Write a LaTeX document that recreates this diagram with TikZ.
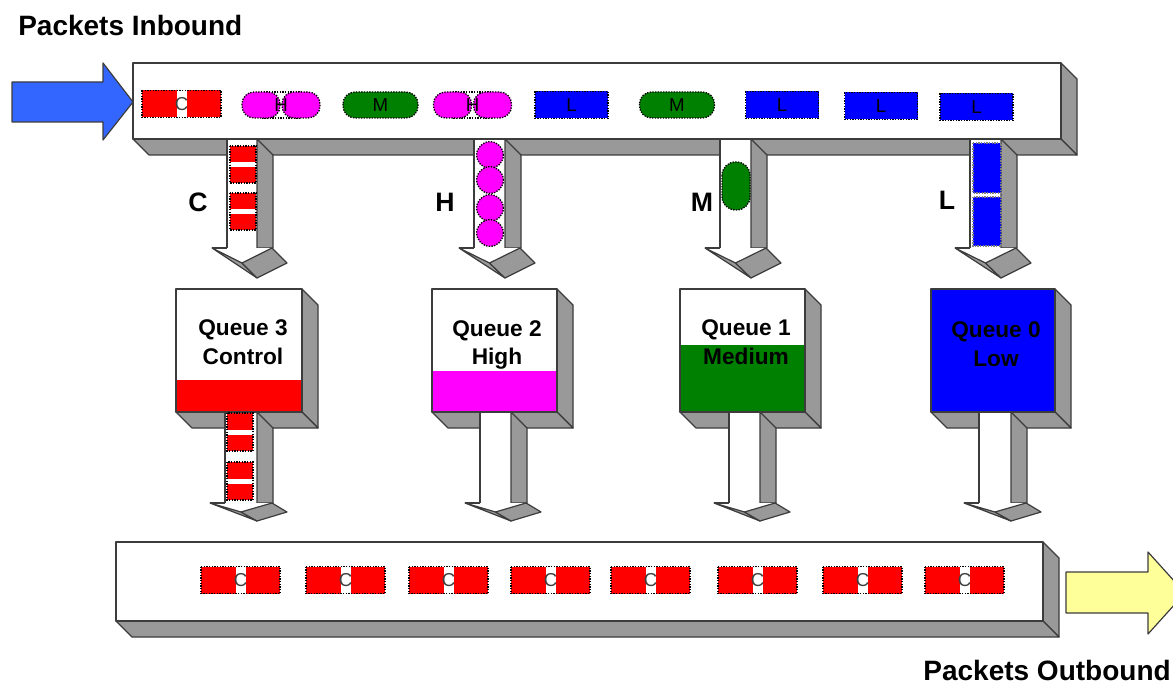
\documentclass[tikz,border=0pt]{standalone}
\usepackage{fontspec}
\setmainfont{Liberation Sans}

\definecolor{ctlred}{RGB}{255,0,0}
\definecolor{himag}{RGB}{255,0,255}
\definecolor{medgreen}{RGB}{0,128,0}
\definecolor{lowblue}{RGB}{0,0,255}
\definecolor{sidegray}{RGB}{153,153,153}
\definecolor{rimgray}{RGB}{60,60,60}
\definecolor{inblue}{RGB}{51,102,255}
\definecolor{outyellow}{RGB}{255,255,153}

\tikzset{
  rim/.style={draw=rimgray, line width=0.9pt, line join=round},
  face/.style={rim, fill=sidegray},
  facefront/.style={rim, fill=white},
  pkt/.style={draw=black, dash pattern=on 1pt off 1pt, line width=1pt},
  pkttext/.style={font=\fontsize{14}{14}\selectfont, inner sep=0pt},
  heading/.style={font=\fontsize{21}{24}\selectfont\bfseries, inner sep=0pt},
  qlabel/.style={font=\fontsize{17}{21.5}\selectfont\bfseries, align=center, inner sep=0pt},
  lane/.style={font=\fontsize{20}{24}\selectfont\bfseries, inner sep=0pt},
}

% gray right and bottom faces of a slab with front (#1,#2)-(#3,#4)
\newcommand{\slab}[4]{%
  \filldraw[face] (#3,#2) -- ({#3+16},{#2+16}) -- ({#3+16},{#4+16}) -- (#3,#4) -- cycle;
  \filldraw[face] (#1,#4) -- (#3,#4) -- ({#3+16},{#4+16}) -- ({#1+16},{#4+16}) -- cycle;
}
% downward chute: left x, right x, top y, bottom y, head height
\newcommand{\chute}[5]{%
  \fill[white] (#1,#3) rectangle (#2,#4);
  \draw[rim] (#1,#3) -- (#1,#4);
  \filldraw[face] (#2,#3) -- ({#2+16},{#3+16}) -- ({#2+16},#4) -- (#2,#4) -- cycle;
  \fill[white] ({#1-15},#4) -- ({#2+15},#4) -- ({(#1+#2)/2},{#4+#5/2}) -- cycle;
  \draw[rim] ({#1-15},#4) -- (#1,#4);
  \filldraw[face] ({#1-15},#4) -- ({(#1+#2)/2},{#4+#5/2}) -- (#2,{#4+#5}) -- cycle;
  \filldraw[face] ({(#1+#2)/2},{#4+#5/2}) -- ({#2+15},#4) -- ({#2+30},{#4+#5/2}) -- (#2,{#4+#5}) -- cycle;
}
% packets: name, centre x, centre y
\newcommand{\ctlpkt}[3]{%
  \fill[ctlred] ({#2-39.5},{#3-13.5}) rectangle ({#2-5},{#3+13.5});
  \fill[ctlred] ({#2+5},{#3-13.5}) rectangle ({#2+39.5},{#3+13.5});
  \node[pkttext, text=darkgray] (#1) at (#2,#3) {C};
  \draw[pkt] ({#2-39.5},{#3-13.5}) rectangle ({#2+39.5},{#3+13.5});
}
\newcommand{\hipkt}[3]{%
  \draw[pkt] ({#2-20},{#3-13}) rectangle ({#2+20},{#3+13});
  \filldraw[pkt, fill=himag, rounded corners=9pt] ({#2-39},{#3-13}) rectangle ({#2-1},{#3+13});
  \filldraw[pkt, fill=himag, rounded corners=9pt] ({#2+1},{#3-13}) rectangle ({#2+39},{#3+13});
  \node[pkttext] (#1) at (#2,#3) {H};
}
\newcommand{\medpkt}[3]{%
  \filldraw[pkt, fill=medgreen, rounded corners=9pt] ({#2-37.5},{#3-13}) rectangle ({#2+37.5},{#3+13});
  \node[pkttext] (#1) at (#2,#3) {M};
}
\newcommand{\lowpkt}[3]{%
  \filldraw[pkt, fill=lowblue] ({#2-36.5},{#3-13.5}) rectangle ({#2+36.5},{#3+13.5});
  \node[pkttext] (#1) at (#2,#3) {L};
}

\begin{document}
\begin{tikzpicture}[x=0.75pt, y=-0.75pt]
  \useasboundingbox (0,0) rectangle (1173,684);

  % Inbound conveyor with its four chutes
  \slab{133}{63}{1061}{139}
  \chute{227}{257}{139}{248}{30}
  \chute{474}{505}{139}{248}{30}
  \chute{720}{751}{139}{248}{30}
  \chute{970}{1001}{139}{248}{30}
  \filldraw[facefront] (133,63) rectangle (1061,139);

  % Packets waiting on the conveyor
  \ctlpkt{inC}{181.5}{104}
  \hipkt{inHa}{281}{105}
  \medpkt{inMa}{380.5}{105}
  \hipkt{inHb}{472.5}{105}
  \lowpkt{inLa}{571.5}{105}
  \medpkt{inMb}{677}{105}
  \lowpkt{inLb}{782}{105}
  \lowpkt{inLc}{881}{106}
  \lowpkt{inLd}{976.5}{107}

  % Packets dropping into the chutes
  \foreach \yt in {146,193} {
    \fill[ctlred] (230,\yt) rectangle (256,\yt+16);
    \fill[ctlred] (230,\yt+21) rectangle (256,\yt+37);
    \draw[pkt] (230,\yt) rectangle (256,\yt+37);
  }
  \foreach \yc in {155,180,208,233}
    \filldraw[pkt, fill=himag] (490,\yc) circle[radius=10pt];
  \filldraw[pkt, fill=medgreen, rounded corners=10pt] (722,162) rectangle (750,210);
  \filldraw[pkt, draw=gray, fill=lowblue] (973,143) rectangle (1001,193);
  \filldraw[pkt, draw=gray, fill=lowblue] (973,197) rectangle (1001,246);

  \node[lane] (laneC) at (198,202) {C};
  \node[lane] (laneH) at (445,202) {H};
  \node[lane] (laneM) at (702,202) {M};
  \node[lane] (laneL) at (947,200) {L};

  % Inbound arrow
  \filldraw[rim, fill=inblue] (12,82) -- (103,82) -- (103,63) -- (133,102)
    -- (103,140) -- (103,122) -- (12,122) -- cycle;

  % Queue 3
  \slab{176}{289}{302}{412}
  \chute{225}{257}{412}{503}{18}
  \fill[white] (176,289) rectangle (302,412);
  \fill[ctlred] (176,380) rectangle (302,412);
  \draw[rim] (176,289) rectangle (302,412);
  \node[qlabel] (q3) at (243,342) {Queue 3\\Control};
  \foreach \yt in {413,462} {
    \fill[ctlred] (227,\yt) rectangle (253,\yt+17);
    \fill[ctlred] (227,\yt+22) rectangle (253,\yt+38);
    \draw[pkt] (227,\yt) rectangle (253,\yt+38);
  }

  % Queue 2
  \slab{432}{289}{557}{412}
  \chute{480}{511}{412}{503}{18}
  \fill[white] (432,289) rectangle (557,412);
  \fill[himag] (432,371) rectangle (557,412);
  \draw[rim] (432,289) rectangle (557,412);
  \node[qlabel] (q2) at (497,345) {Queue 2\\High};

  % Queue 1
  \slab{680}{289}{805}{412}
  \chute{729}{760}{412}{503}{18}
  \fill[white] (680,289) rectangle (805,412);
  \fill[medgreen] (680,345) rectangle (805,412);
  \draw[rim] (680,289) rectangle (805,412);
  \node[qlabel] (q1) at (746,342) {Queue 1\\Medium};

  % Queue 0
  \slab{931}{289}{1055}{412}
  \chute{979}{1011}{412}{503}{18}
  \fill[lowblue] (931,289) rectangle (1055,412);
  \draw[rim] (931,289) rectangle (1055,412);
  \node[qlabel] (q0) at (996,344) {Queue 0\\Low};

  % Outbound conveyor
  \slab{116}{542}{1043}{621}
  \filldraw[facefront] (116,542) rectangle (1043,621);
  \foreach \cx [count=\i] in {240.5,345.5,448.5,550.5,650.5,757.5,862.5,964.5}
    \ctlpkt{out\i}{\cx}{580}
  \foreach \xa/\xb in {360/412,553/607,748/800}
    \draw[rimgray, line width=2.2pt] (\xa,621) -- (\xb,621);

  % Outbound arrow
  \filldraw[rim, fill=outyellow] (1066,572) -- (1148,572) -- (1148,552) -- (1185,593)
    -- (1148,634) -- (1148,613) -- (1066,613) -- cycle;

  % Titles
  \node[heading, anchor=west] (inbound) at (18,25) {Packets Inbound};
  \node[heading, anchor=east] (outbound) at (1171,670) {Packets Outbound};
\end{tikzpicture}
\end{document}
